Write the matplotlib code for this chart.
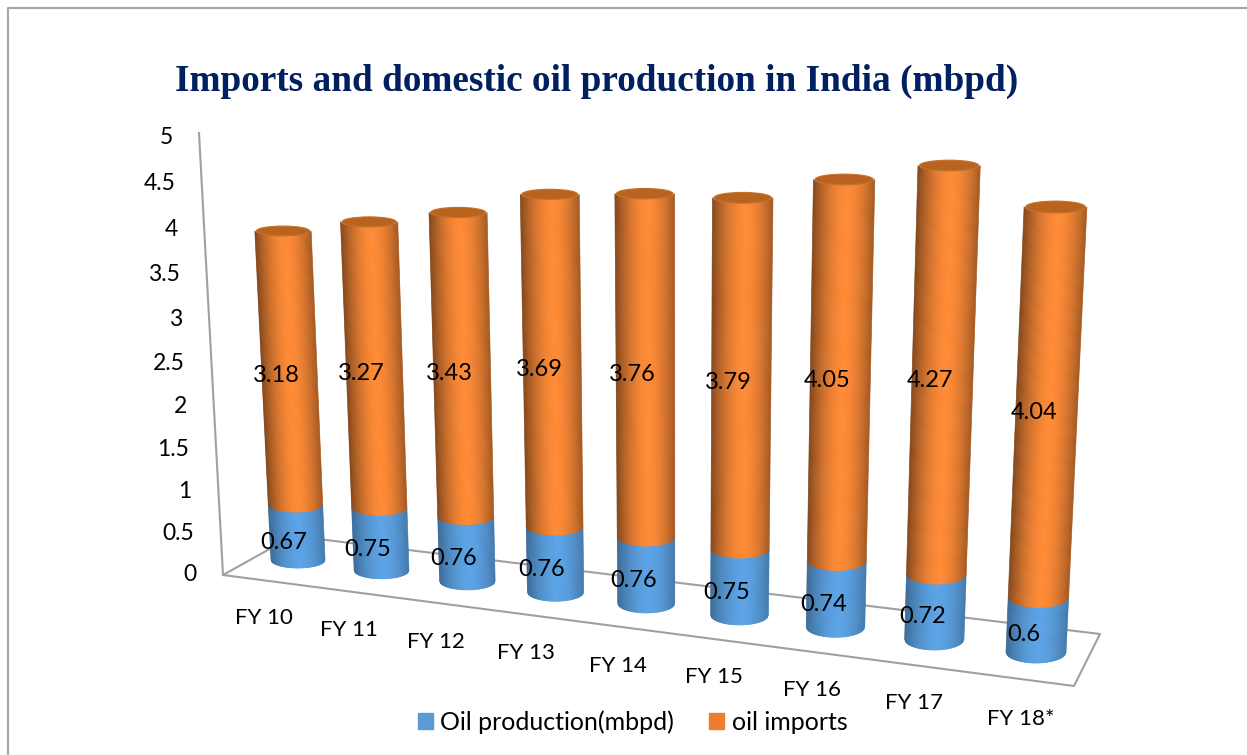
import matplotlib
matplotlib.use('Agg')
import matplotlib.pyplot as plt
import numpy as np
from matplotlib.collections import PolyCollection
from matplotlib.patches import Patch, Ellipse

categories = ['FY 10', 'FY 11', 'FY 12', 'FY 13', 'FY 14', 'FY 15', 'FY 16', 'FY 17', 'FY 18*']
production = [0.67, 0.75, 0.76, 0.76, 0.76, 0.75, 0.74, 0.72, 0.6]
imports = [3.18, 3.27, 3.43, 3.69, 3.76, 3.79, 4.05, 4.27, 4.04]
y_ticks = [0, 0.5, 1, 1.5, 2, 2.5, 3, 3.5, 4, 4.5, 5]

BLUE = np.array([0x5B, 0xA3, 0xE6]) / 255
ORANGE = np.array([0xFF, 0x8A, 0x35]) / 255
CAP = '#B8641F'
GREY = '#A0A0A0'
TEXT_FONT = 'Lato'
INK = '#000000'


def fit_plane(src, dst):
    # homography from (category index, value) to picture pixels
    rows = []
    for (a, b), (x, y) in zip(src, dst):
        rows.append([a, b, 1, 0, 0, 0, -a * x, -b * x, -x])
        rows.append([0, 0, 0, a, b, 1, -a * y, -b * y, -y])
    return np.linalg.svd(np.array(rows))[2][-1].reshape(3, 3)


H = fit_plane([(0, 0), (0, 3.85), (8, 0), (8, 4.64)],
              [(298, 560), (283, 231), (1036, 652), (1055.5, 207)])


def project(i, v):
    p = H @ np.array([i, v, 1.0])
    return p[0] / p[2], p[1] / p[2]


def half_width(i, v):
    return 27 + 0.375 * i + 0.3 * v


def half_height(i, v):
    return (8 + 0.375 * i) * (1 - 0.1 * v)


def shade(u, depth):
    # light falls slightly right of the middle, edges go dark
    return 1 - depth * np.abs(u - 0.1) ** 1.7


def cylinder(ax, i, v0, v1, color, depth):
    x0, y0 = project(i, v0)
    x1, y1 = project(i, v1)
    w0, w1 = half_width(i, v0), half_width(i, v1)
    h0, h1 = half_height(i, v0), half_height(i, v1)
    edges = np.linspace(-1, 1, 61)
    polys, colors = [], []
    for a, b in zip(edges[:-1], edges[1:]):
        polys.append([(x0 + a * w0, y0 + h0 * np.sqrt(1 - a * a)),
                      (x0 + b * w0, y0 + h0 * np.sqrt(1 - b * b)),
                      (x1 + b * w1, y1 + h1 * np.sqrt(1 - b * b)),
                      (x1 + a * w1, y1 + h1 * np.sqrt(1 - a * a))])
        colors.append(color * shade((a + b) / 2, depth))
    ax.add_collection(PolyCollection(polys, facecolors=colors, edgecolors=colors, linewidths=0.5, zorder=2))


fig = plt.figure(figsize=(12.47, 7.55), dpi=100)
ax = fig.add_axes([0, 0, 1, 1])
ax.set_xlim(0, 1247)
ax.set_ylim(755, 0)
ax.axis('off')

# outer chart border, open on the right and at the bottom
ax.plot([8, 8, 1247], [755, 8, 8], color='#A6A6A6', lw=1.5, zorder=1)

# walls and floor
ax.plot([199, 223, 1074, 1100, 293, 223], [133, 575, 686, 634, 536, 575], color=GREY, lw=1.5, zorder=1)

for v in y_ticks:
    y = 574 - (81.4 * v + 1.2 * v * v)
    x = 222 - 23 * v / 5
    ax.text(x - 26, y + 0.5, str(v), ha='right', va='center', fontsize=16.5, family=TEXT_FONT, color=INK)

for i in range(len(categories)):
    total = production[i] + imports[i]
    cylinder(ax, i, 0, production[i], BLUE, 0.3)
    cylinder(ax, i, production[i], total, ORANGE, 0.42)
    x, y = project(i, total)
    ax.add_patch(Ellipse((x, y), 2 * half_width(i, total) - 3, 2 * half_height(i, total),
                         facecolor=CAP, edgecolor='#C4702A', lw=0.8, zorder=3))

label_x = [264, 349, 436, 526, 618, 714, 812, 914, 1021]
label_y = [618, 630, 642, 653, 666, 677, 690, 703, 719]
for i, name in enumerate(categories):
    ax.text(label_x[i], label_y[i], name, ha='center', va='center', fontsize=16, family=TEXT_FONT, color=INK)

for i in range(len(categories)):
    x, y = project(i, production[i] / 2)
    ax.text(x - 13, y + 10, str(production[i]), ha='center', va='center', fontsize=17, family=TEXT_FONT, color=INK, zorder=5)
    x, y = project(i, production[i] + imports[i] / 2)
    ax.text(x - 13, y + 6, str(imports[i]), ha='center', va='center', fontsize=17, family=TEXT_FONT, color=INK, zorder=5)

ax.text(597, 81, 'Imports and domestic oil production in India (mbpd)', ha='center', va='center',
        fontsize=26.8, fontweight='bold', family='Liberation Serif', color='#002060')

handles = [Patch(color='#5B9BD5'), Patch(color='#ED7D31')]
ax.legend(handles, ['Oil production(mbpd)', 'oil imports'], loc='center', bbox_to_anchor=(632.5, 722),
          bbox_transform=ax.transData, ncol=2, frameon=False, handlelength=0.6, handleheight=0.6,
          handletextpad=0.3, columnspacing=1.4, prop={'family': TEXT_FONT, 'size': 18})

fig.savefig('out.png', dpi=100)
